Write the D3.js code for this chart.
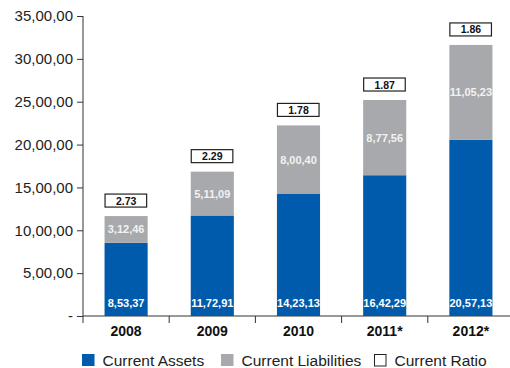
<!DOCTYPE html>
<html>
<head>
<meta charset="utf-8">
<script src="https://cdn.jsdelivr.net/npm/d3@7"></script>
<style>
  body { margin: 0; background: #fff; }
  svg { font-family: "Liberation Sans", Arial, sans-serif; }
</style>
</head>
<body>
<div id="chart"></div>
<script>
// Values in units (axis 35,00,00 = 350000)
const years = ['2008', '2009', '2010', '2011*', '2012*'];
const currentAssets = [85337, 117291, 142313, 164229, 205713];
const currentLiabilities = [31246, 51109, 80040, 87756, 110523];
const currentRatio = ['2.73', '2.29', '1.78', '1.87', '1.86'];
const yTicks = [0, 50000, 100000, 150000, 200000, 250000, 300000, 350000];
const yTickLabels = ['-', '5,00,00', '10,00,00', '15,00,00', '20,00,00', '25,00,00', '30,00,00', '35,00,00'];
const assetLabels = ['8,53,37', '11,72,91', '14,23,13', '16,42,29', '20,57,13'];
const liabilityLabels = ['3,12,46', '5,11,09', '8,00,40', '8,77,56', '11,05,23'];
const legendItems = ['Current Assets', 'Current Liabilities', 'Current Ratio'];

const width = 510, height = 368;
const colors = { assets: '#005BAC', liabilities: '#A7A9AC' };

const svg = d3.select('#chart').append('svg')
  .attr('width', width)
  .attr('height', height);

const x = d3.scaleBand()
  .domain(years)
  .range([83, 514])
  .paddingInner(0.5)
  .paddingOuter(0.25);

const y = d3.scaleLinear()
  .domain([0, 350000])
  .range([316, 16]);

// Y axis
const yAxis = svg.append('g')
  .attr('transform', 'translate(83,0)')
  .call(d3.axisLeft(y).tickValues(yTicks).tickFormat((d, i) => yTickLabels[i]).tickSize(6).tickPadding(4));
yAxis.select('.domain').attr('stroke', '#333').attr('d', 'M0,16V316');
yAxis.selectAll('.tick line').attr('stroke', '#333');
yAxis.selectAll('.tick text')
  .attr('font-size', '15px')
  .attr('font-family', '"Liberation Sans", Arial, sans-serif')
  .attr('fill', '#222');

// X axis line with ticks at band boundaries
svg.append('line')
  .attr('x1', 83).attr('x2', 510)
  .attr('y1', 316).attr('y2', 316)
  .attr('stroke', '#333');
const step = x.step();
const gap = (step - x.bandwidth()) / 2;
years.slice(1).forEach((yr) => {
  svg.append('line')
    .attr('x1', x(yr) - gap)
    .attr('x2', x(yr) - gap)
    .attr('y1', 316).attr('y2', 323)
    .attr('stroke', '#333');
});
svg.append('line')
  .attr('x1', 83).attr('x2', 83)
  .attr('y1', 316).attr('y2', 323)
  .attr('stroke', '#333');

svg.append('g').selectAll('text')
  .data(years)
  .join('text')
  .attr('x', d => x(d) + x.bandwidth() / 2)
  .attr('y', 336)
  .attr('text-anchor', 'middle')
  .attr('font-size', '14px')
  .attr('font-weight', 'bold')
  .attr('fill', '#111')
  .text(d => d);

// Bars
const bars = svg.append('g');
years.forEach((yr, i) => {
  const a = currentAssets[i];
  const l = currentLiabilities[i];
  bars.append('rect')
    .attr('x', x(yr))
    .attr('y', y(a))
    .attr('width', x.bandwidth())
    .attr('height', y(0) - y(a))
    .attr('fill', colors.assets);
  bars.append('rect')
    .attr('x', x(yr))
    .attr('y', y(a + l))
    .attr('width', x.bandwidth())
    .attr('height', y(a) - y(a + l))
    .attr('fill', colors.liabilities);

  // value labels
  bars.append('text')
    .attr('x', x(yr) + x.bandwidth() / 2)
    .attr('y', 307)
    .attr('text-anchor', 'middle')
    .attr('font-size', '11px')
    .attr('font-weight', 'bold')
    .attr('fill', '#fff')
    .text(assetLabels[i]);
  bars.append('text')
    .attr('x', x(yr) + x.bandwidth() / 2)
    .attr('y', (y(a) + y(a + l)) / 2 + 4)
    .attr('text-anchor', 'middle')
    .attr('font-size', '11px')
    .attr('font-weight', 'bold')
    .attr('fill', '#f2f2f2')
    .text(liabilityLabels[i]);

  // ratio box
  const top = y(a + l);
  bars.append('rect')
    .attr('x', x(yr) + 0.5)
    .attr('y', top - 22)
    .attr('width', x.bandwidth() - 1.5)
    .attr('height', 13)
    .attr('fill', '#fff')
    .attr('stroke', '#222')
    .attr('stroke-width', 1.2);
  bars.append('text')
    .attr('x', x(yr) + x.bandwidth() / 2)
    .attr('y', top - 11.5)
    .attr('text-anchor', 'middle')
    .attr('font-size', '10.5px')
    .attr('font-weight', 'bold')
    .attr('fill', '#111')
    .text(currentRatio[i]);
});

// Legend
const legendX = [82, 221, 374];
const legendFill = [colors.assets, colors.liabilities, '#fff'];
const legend = svg.append('g');
legendItems.forEach((name, i) => {
  legend.append('rect')
    .attr('x', legendX[i] + (i === 2 ? 0.5 : 0))
    .attr('y', 354 + (i === 2 ? 0.5 : 0))
    .attr('width', i === 2 ? 11.5 : 12.5)
    .attr('height', i === 2 ? 11.5 : 12)
    .attr('fill', legendFill[i])
    .attr('stroke', i === 2 ? '#222' : 'none');
  legend.append('text')
    .attr('x', legendX[i] + 20.5)
    .attr('y', 365.5)
    .attr('font-size', '15.5px')
    .attr('fill', '#222')
    .text(name);
});
</script>
</body>
</html>
